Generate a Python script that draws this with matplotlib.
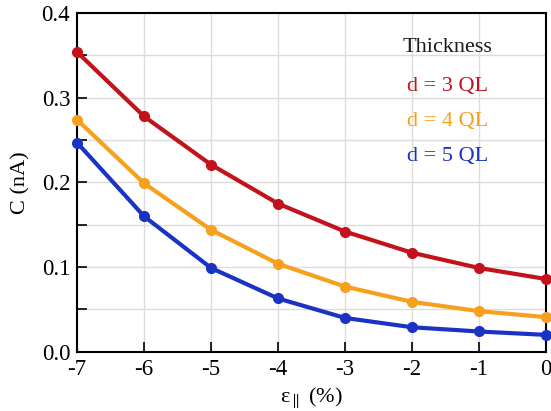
import matplotlib
matplotlib.use("Agg")
import matplotlib.pyplot as plt
from matplotlib.ticker import MultipleLocator

plt.rcParams['font.family'] = ['Liberation Serif', 'DejaVu Serif']
plt.rcParams['mathtext.fontset'] = 'stix'
plt.rcParams['mathtext.default'] = 'regular'

# strain (%) and C (nA) for each thickness
strain = [-7, -6, -5, -4, -3, -2, -1, 0]
c_3ql = [0.354, 0.278, 0.221, 0.175, 0.142, 0.117, 0.099, 0.086]
c_4ql = [0.274, 0.199, 0.144, 0.104, 0.077, 0.059, 0.048, 0.041]
c_5ql = [0.247, 0.160, 0.099, 0.063, 0.040, 0.029, 0.024, 0.020]
labels = ["d = 3 QL", "d = 4 QL", "d = 5 QL"]
colors = ["#c3121b", "#f7a01e", "#1b33c4"]

fig = plt.figure(figsize=(5.51, 4.11), dpi=100)
ax = fig.add_axes([0.14, 0.144, 0.851, 0.824])

for ys, c in zip([c_3ql, c_4ql, c_5ql], colors):
    ax.plot(strain, ys, color=c, lw=3, marker='o', ms=7, clip_on=False, zorder=3)

ax.set_xlim(-7, 0)
ax.set_ylim(0, 0.4)
ax.xaxis.set_major_locator(MultipleLocator(1))
ax.yaxis.set_major_locator(MultipleLocator(0.1))
ax.yaxis.set_minor_locator(MultipleLocator(0.05))
ax.set_yticklabels([], minor=True)
ax.set_xticklabels([str(int(v)) for v in ax.get_xticks()])
ax.yaxis.set_major_formatter(plt.FormatStrFormatter('%.1f'))

ax.grid(True, which='both', color='#dcdcdc', lw=1.0)
ax.set_axisbelow(True)
ax.tick_params(direction='in', length=7, width=1.2, labelsize=16.5, pad=5)
ax.tick_params(which='minor', direction='in', length=7, width=1.2)
for s in ax.spines.values():
    s.set_linewidth(1.5)

ax.set_xlabel(r'$\epsilon_{\parallel}$ (%)', fontsize=16, labelpad=4)
ax.set_ylabel('C (nA)', fontsize=16, labelpad=8)

ax.text(0.695, 0.885, "Thickness", transform=ax.transAxes, fontsize=16, color='#1a1a1a')
for i, (lab, c) in enumerate(zip(labels, colors)):
    ax.text(0.703, 0.77 - i * 0.103, lab, transform=ax.transAxes, fontsize=16, color=c)

fig.savefig("out.png", dpi=100)
